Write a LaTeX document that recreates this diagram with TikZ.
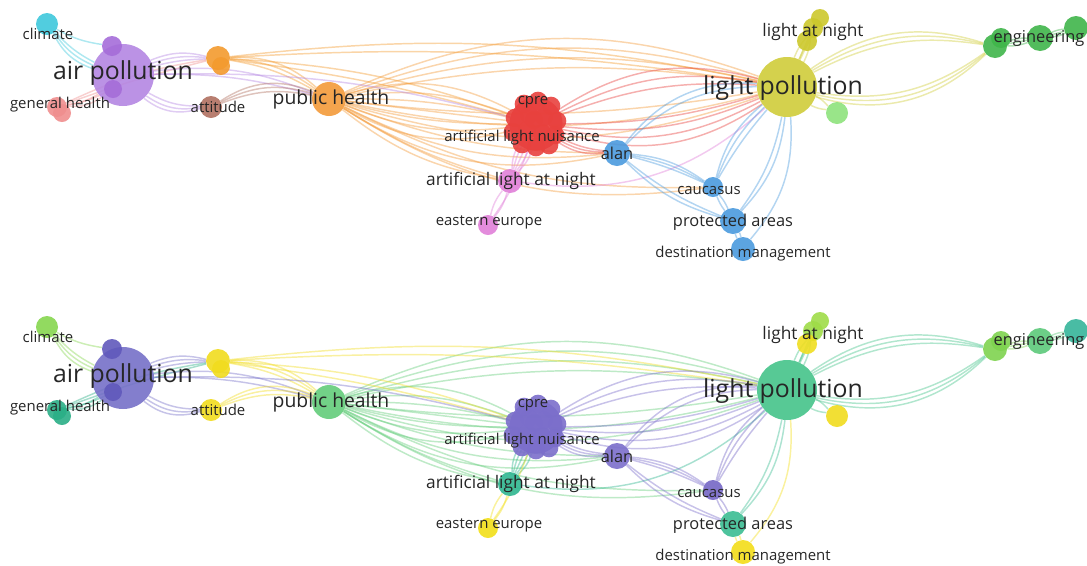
\documentclass[tikz,border=0pt]{standalone}
\usepackage{fontspec}
\setmainfont{Open Sans}
\usetikzlibrary{positioning}
\pgfdeclarelayer{bg}
\pgfsetlayers{bg,main}

% cluster colours, top map (A) and overlay map (B)
\definecolor{climA}{HTML}{3EC8DC} \definecolor{climB}{HTML}{86D64F}
\definecolor{apA}{HTML}{B486E2}   \definecolor{apB}{HTML}{7670C8}
\definecolor{apdA}{HTML}{A56DD9}  \definecolor{apdB}{HTML}{6159BB}
\definecolor{ghA}{HTML}{EF8E8E}   \definecolor{ghB}{HTML}{2AAE86}
\definecolor{ornA}{HTML}{F39A2E}  \definecolor{ornB}{HTML}{F1DC1E}
\definecolor{attA}{HTML}{B07060}  \definecolor{attB}{HTML}{F1DB1E}
\definecolor{phA}{HTML}{F39A3A}   \definecolor{phB}{HTML}{63CC7A}
\definecolor{cpA}{HTML}{E8413E}   \definecolor{cpB}{HTML}{7B6ECB}
\definecolor{alA}{HTML}{4A9ADE}   \definecolor{alB}{HTML}{7B6ECB}
\definecolor{alnA}{HTML}{E07FD8}  \definecolor{alnB}{HTML}{2FB690}
\definecolor{eeA}{HTML}{E07FD8}   \definecolor{eeB}{HTML}{F2DF18}
\definecolor{lpA}{HTML}{CFCC3A}   \definecolor{lpB}{HTML}{45C38A}
\definecolor{lanA}{HTML}{CCC82C}  \definecolor{lanB}{HTML}{9EDC48}
\definecolor{lanbA}{HTML}{CCC82C} \definecolor{lanbB}{HTML}{F0DE20}
\definecolor{lgA}{HTML}{8EE27C}   \definecolor{lgB}{HTML}{F1DC1E}
\definecolor{engA}{HTML}{3FB54A}  \definecolor{engB}{HTML}{7ED34F}
\definecolor{engmA}{HTML}{3FB54A} \definecolor{engmB}{HTML}{5CC97A}
\definecolor{engrA}{HTML}{3FB54A} \definecolor{engrB}{HTML}{35B59A}
\definecolor{cauA}{HTML}{4A9ADE}  \definecolor{cauB}{HTML}{7466C5}
\definecolor{paA}{HTML}{4A9ADE}   \definecolor{paB}{HTML}{3BBD92}
\definecolor{dmA}{HTML}{4A9ADE}   \definecolor{dmB}{HTML}{F3DD18}

\tikzset{
  dot/.style={circle, inner sep=0pt, minimum size=#1, fill opacity=0.9},
  lnk/.style={draw=#1, line width=1.1pt, draw opacity=0.42},
  tagXL/.style={font=\fontsize{18.6}{20}\selectfont, text=black!85, inner sep=0pt},
  tagL/.style={font=\fontsize{14.5}{16}\selectfont, text=black!85, inner sep=0pt},
  tagM/.style={font=\fontsize{13}{14}\selectfont, text=black!85, inner sep=0pt},
  tagMS/.style={font=\fontsize{12.3}{13}\selectfont, text=black!85, inner sep=0pt},
  tagS/.style={font=\fontsize{11.2}{12}\selectfont, text=black!85, inner sep=0pt},
}

\begin{document}
\begin{tikzpicture}[x=0.75pt,y=-0.75pt]
\useasboundingbox (0,0) rectangle (1087,565);

\foreach \p/\dy in {A/0,B/303}{
\begin{scope}[shift={(0,\dy)}]

% air pollution group
\node[dot=46.5pt, fill=ap\p] (air\p) at (123,75) {};
\node[dot=15pt, fill=apd\p] (apu\p) at (112,46) {};
\node[dot=13.5pt, fill=apd\p] (apl\p) at (113,89) {};
\node[dot=16.5pt, fill=clim\p] (clim\p) at (47,24) {};
\node[dot=15pt, fill=gh\p] (gh\p) at (57,107) {};
\node[dot=13.5pt, fill=gh\p] (ghb\p) at (62,113) {};
\node[dot=18pt, fill=orn\p] (orn\p) at (218,58) {};
\node[dot=13.5pt, fill=orn\p] (ornb\p) at (221,66) {};
\node[dot=16.5pt, fill=att\p] (att\p) at (211,107) {};

% public health
\node[dot=25.5pt, fill=ph\p] (ph\p) at (329,99) {};

% cpre cluster
\node[dot=40pt, fill=cp\p] (cp\p) at (536,124) {};
\foreach \u/\v [count=\i] in {-12/-20,2/-23,15/-18,-21/-6,-7/-9,8/-7,21/-3,-23/8,-9/6,6/9,19/11,-14/20,0/23,13/21,-2/-4}
  \node[dot=14pt, fill=cp\p] (cp\p-\i) at (536+\u,124+\v) {};

\node[dot=19.5pt, fill=al\p] (al\p) at (617,153) {};
\node[dot=18pt, fill=aln\p] (aln\p) at (510,181) {};
\node[dot=15pt, fill=ee\p] (ee\p) at (488,225) {};

% light pollution group
\node[dot=45pt, fill=lp\p] (lp\p) at (787,87) {};
\node[dot=13.5pt, fill=lan\p] (lan\p) at (820,18) {};
\node[dot=15pt, fill=lan\p] (lanm\p) at (813,28) {};
\node[dot=15pt, fill=lanb\p] (lanb\p) at (807,41) {};
\node[dot=16.5pt, fill=lg\p] (lg\p) at (837,113) {};
\node[dot=18pt, fill=eng\p] (eng\p) at (995,46) {};
\node[dot=15pt, fill=eng\p] (engt\p) at (1001,38) {};
\node[dot=19.5pt, fill=engm\p] (engm\p) at (1040,38) {};
\node[dot=18pt, fill=engr\p] (engr\p) at (1076,28) {};

% protected areas group
\node[dot=15pt, fill=cau\p] (cau\p) at (713,187) {};
\node[dot=19.5pt, fill=pa\p] (pa\p) at (733,221) {};
\node[dot=18pt, fill=dm\p] (dm\p) at (743,249) {};

% links
\begin{pgfonlayer}{bg}
\foreach \b in {10,16,22} \draw[lnk=clim\p] (clim\p) to[bend right=\b] (air\p);
\draw[lnk=clim\p] (clim\p) to[bend right=10] (apu\p);
\foreach \b in {12,20} \draw[lnk=gh\p] (gh\p) to[bend right=\b] (air\p);
\foreach \b in {3,8} \draw[lnk=gh\p] (gh\p) to[bend left=\b] (orn\p);
\draw[lnk=gh\p] (gh\p) to[bend right=8] (apl\p);
\foreach \b in {6,12,18} \draw[lnk=ap\p] (air\p) to[bend left=\b] (orn\p);
\foreach \b in {15,22,28} \draw[lnk=ap\p] (air\p) to[bend right=\b] (att\p);
\foreach \b in {8,14} \draw[lnk=ap\p] (air\p) to[bend left=\b] (ph\p);
\foreach \b in {10,16,22} \draw[lnk=orn\p] (orn\p) to[bend left=\b] (ph\p);
\foreach \b in {16,22,28} \draw[lnk=att\p] (att\p) to[bend left=\b] (ph\p);
\foreach \b in {-22,-14,-7,0,7,14,22} \draw[lnk=ph\p] (ph\p) to[bend left=\b] (cp\p);
\foreach \b in {10,14,18,22} \draw[lnk=ph\p] (ph\p) to[bend left=\b] (lp\p);
\foreach \b in {8,13,18} \draw[lnk=ph\p] (ph\p) to[bend right=\b] (lp\p);
\foreach \b in {10,16,22} \draw[lnk=ph\p] (ph\p) to[bend right=\b] (al\p);
\foreach \b in {8,14} \draw[lnk=ph\p] (ph\p) to[bend right=\b] (aln\p);
\foreach \b in {14,20} \draw[lnk=ph\p] (ph\p) to[bend right=\b] (cau\p);
\foreach \b in {4,8} \draw[lnk=orn\p] (orn\p) to[bend left=\b] (cp\p);
\foreach \b in {6,9} \draw[lnk=orn\p] (orn\p) to[bend left=\b] (lp\p);
\draw[lnk=ap\p] (air\p) to[bend left=8] (cp\p);
\foreach \b in {12,18,24} \draw[lnk=cp\p] (cp\p) to[bend left=\b] (lp\p);
\foreach \b in {8,14,20,26} \draw[lnk=cp\p] (cp\p) to[bend right=\b] (lp\p);
\foreach \b in {10,15,20} \draw[lnk=cp\p] (cp\p) to[bend right=\b] (al\p);
\foreach \b in {-15,-8,0,8,15} \draw[lnk=aln\p] (aln\p) to[bend left=\b] (cp\p);
\foreach \b in {-12,12} \draw[lnk=ee\p] (ee\p) to[bend left=\b] (aln\p);
\draw[lnk=ee\p] (ee\p) to[bend right=8] (cp\p);
\draw[lnk=aln\p] (aln\p) to[bend right=25] (lp\p);
\foreach \b in {22,28} \draw[lnk=al\p] (al\p) to[bend left=\b] (lp\p);
\foreach \b in {5,10,15} \draw[lnk=al\p] (al\p) to[bend left=\b] (cau\p);
\foreach \b in {8,14} \draw[lnk=al\p] (al\p) to[bend right=\b] (pa\p);
\foreach \b in {-8,8} \draw[lnk=cau\p] (cau\p) to[bend left=\b] (pa\p);
\foreach \b in {5,12,18} \draw[lnk=cau\p] (cau\p) to[bend left=\b] (lp\p);
\foreach \b in {12,18} \draw[lnk=pa\p] (pa\p) to[bend right=\b] (lp\p);
\draw[lnk=dm\p] (dm\p) to[bend right=22] (lp\p);
\foreach \b in {-10,10} \draw[lnk=dm\p] (dm\p) to[bend left=\b] (pa\p);
\foreach \b in {-10,0,10} \draw[lnk=lp\p] (lp\p) to[bend left=\b] (lanm\p);
\draw[lnk=lp\p] (lp\p) to (lan\p);
\draw[lnk=lp\p] (lp\p) to (lanb\p);
\foreach \b in {-10,10} \draw[lnk=lp\p] (lp\p) to[bend left=\b] (lg\p);
\foreach \b in {18,22,26} \draw[lnk=lp\p] (lp\p) to[bend left=\b] (eng\p);
\foreach \b in {22,26,30} \draw[lnk=lp\p] (lp\p) to[bend right=\b] (eng\p);
\foreach \b in {-10,0,10} \draw[lnk=eng\p] (eng\p) to[bend left=\b] (engm\p);
\foreach \b in {-10,0,10} \draw[lnk=engm\p] (engm\p) to[bend left=\b] (engr\p);
\end{pgfonlayer}

% labels
\node[tagS] (tclim\p) at (48,34) {climate};
\node[tagXL] (tair\p) at (123,73) {air pollution};
\node[tagS] (tgh\p) at (60,105) {general health};
\node[tagS] (tatt\p) at (218,107) {attitude};
\node[tagL] (tph\p) at (331,99) {public health};
\node[tagS] (tcp\p) at (533,102) {cpre};
\node[tagS] (tnui\p) at (522,138) {artificial light nuisance};
\node[tagMS] (tal\p) at (617,153) {alan};
\node[tagM] (taln\p) at (511,181) {artificial light at night};
\node[tagS] (tee\p) at (489,222) {eastern europe};
\node[tagXL] (tlp\p) at (783,88) {light pollution};
\node[tagM] (tlan\p) at (813,32) {light at night};
\node[tagMS] (teng\p) at (1039,38) {engineering};
\node[tagS] (tcau\p) at (709,190) {caucasus};
\node[tagMS] (tpa\p) at (733,222) {protected areas};
\node[tagS] (tdm\p) at (743,254) {destination management};

\end{scope}
}

\end{tikzpicture}
\end{document}
